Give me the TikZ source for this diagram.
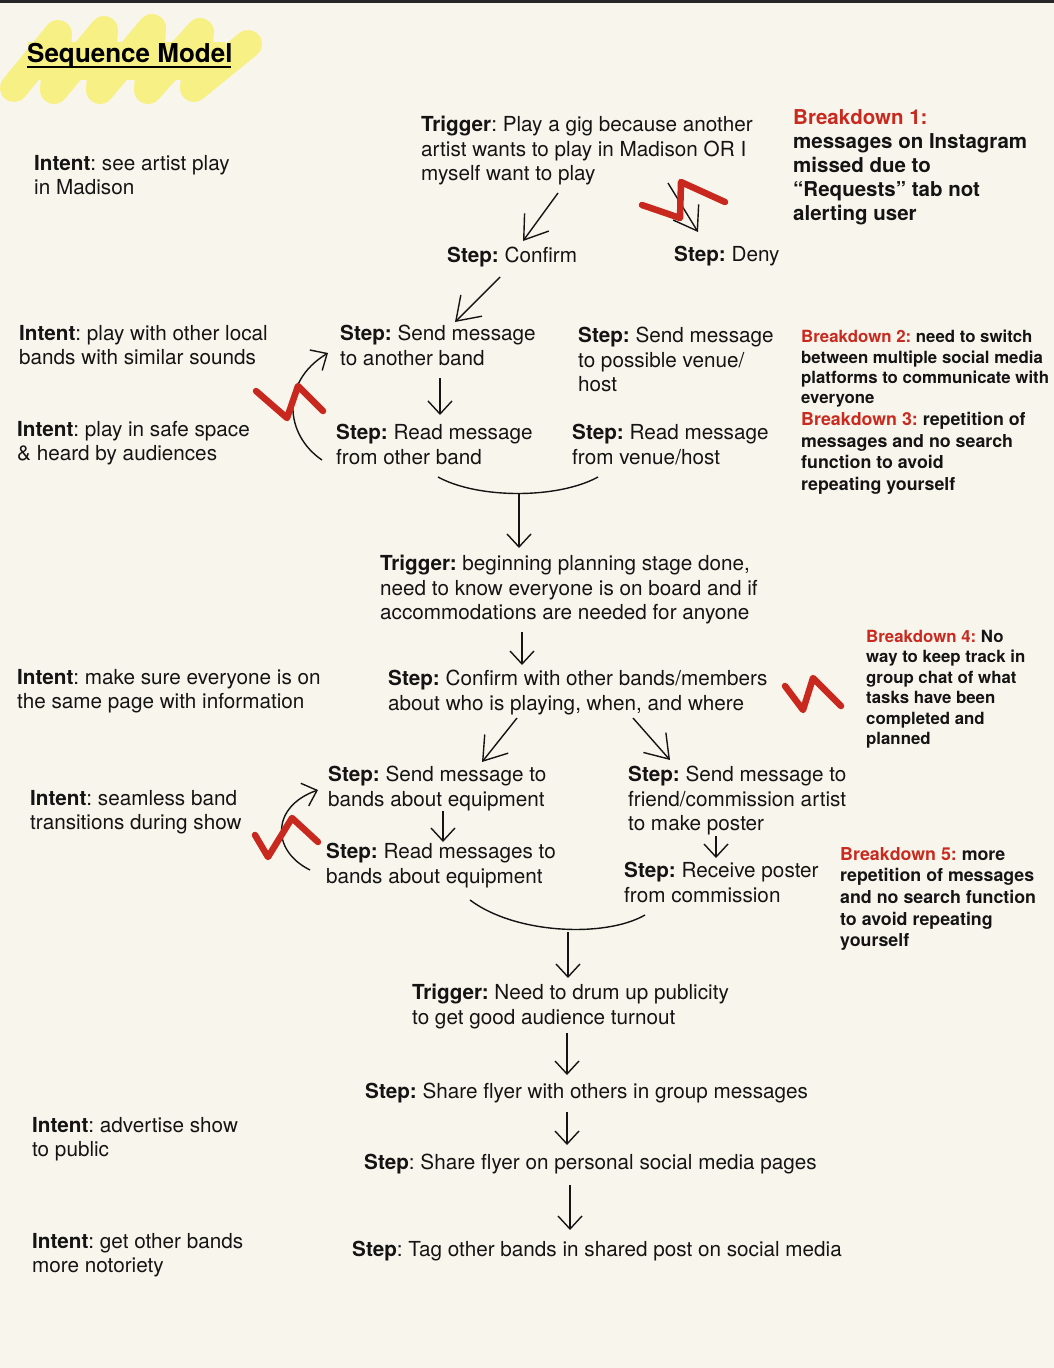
\documentclass[tikz,border=0pt]{standalone}
\usepackage{fontspec}
\setmainfont{TeX Gyre Heros}
\usetikzlibrary{arrows.meta}
\frenchspacing

\definecolor{paper}{HTML}{F8F6EC}
\definecolor{hilite}{HTML}{F7F084}
\definecolor{zigred}{HTML}{C8281E}
\definecolor{brkred}{HTML}{C92A20}
\definecolor{ink}{HTML}{141414}

\tikzset{
  txt/.style={anchor=north west, inner sep=0pt, align=left, text=ink, font=\fontsize{20.7}{24.5}\selectfont},
  brk/.style={anchor=north west, inner sep=0pt, align=left, text=ink, font=\bfseries\fontsize{16.8}{20.4}\selectfont},
  brkbig/.style={brk, font=\bfseries\fontsize{17.8}{21.7}\selectfont},
  arr/.style={ink, line width=1.4pt, -{Straight Barb[length=13pt,width=24pt]}},
  bigarr/.style={ink, line width=1.4pt, -{Straight Barb[length=22pt,width=30pt]}},
  zig/.style={draw=zigred, line width=6.5pt, line cap=round, line join=round},
}
\newcommand{\brkred}[1]{{\color{brkred}#1}}

\begin{document}
\begin{tikzpicture}[x=1pt,y=-1pt]
\useasboundingbox (0,0) rectangle (1054,1368);
\fill[paper] (0,0) rectangle (1054,1368);
\fill[black!85] (0,0) rectangle (1054,3);

% yellow highlight behind title
\fill[hilite] (28,42) rectangle (225,80);
\draw[hilite, line width=28pt, line cap=round, line join=round]
  (14,88) -- (58,34) -- (54,90) -- (104,30) -- (100,90) -- (152,28) -- (148,90)
  -- (200,32) -- (194,88) -- (248,44);
\node[anchor=base west, inner sep=0pt, font=\bfseries\fontsize{26}{30}\selectfont] (title) at (27,62) {Sequence Model};
\draw[line width=2pt] (title.base west) ++(0,4.5) -- ++(204,0);

% intents
\node[txt] (int1) at (34,155) {\textbf{Intent}: see artist play\\in Madison};
\node[txt] (int2) at (19,325) {\textbf{Intent}: play with other local\\bands with similar sounds};
\node[txt] (int3) at (17,421) {\textbf{Intent}: play in safe space\\\& heard by audiences};
\node[txt] (int4) at (17,669) {\textbf{Intent}: make sure everyone is on\\the same page with information};
\node[txt] (int5) at (30,790) {\textbf{Intent}: seamless band\\transitions during show};
\node[txt] (int6) at (32,1117) {\textbf{Intent}: advertise show\\to public};
\node[txt] (int7) at (32,1233) {\textbf{Intent}: get other bands\\more notoriety};

% steps
\node[txt] (trig1) at (421,116) {\textbf{Trigger}: Play a gig because another\\artist wants to play in Madison OR I\\myself want to play};
\node[txt] (confirm) at (447,247) {\textbf{Step:} Confirm};
\node[txt] (deny) at (674,246) {\textbf{Step:} Deny};
\node[txt] (sendband) at (340,325) {\textbf{Step:} Send message\\to another band};
\node[txt] (sendvenue) at (578,327) {\textbf{Step:} Send message\\to possible venue/\\host};
\node[txt] (readband) at (336,424) {\textbf{Step:} Read message\\from other band};
\node[txt] (readvenue) at (572,424) {\textbf{Step:} Read message\\from venue/host};
\node[txt] (trig2) at (380,555) {\textbf{Trigger:} beginning planning stage done,\\need to know everyone is on board and if\\accommodations are needed for anyone};
\node[txt] (confother) at (388,670) {\textbf{Step:} Confirm with other bands/members\\about who is playing, when, and where};
\node[txt] (sendequip) at (328,766) {\textbf{Step:} Send message to\\bands about equipment};
\node[txt] (sendposter) at (628,766) {\textbf{Step:} Send message to\\friend/commission artist\\to make poster};
\node[txt] (readequip) at (326,843) {\textbf{Step:} Read messages to\\bands about equipment};
\node[txt] (receive) at (624,862) {\textbf{Step:} Receive poster\\from commission};
\node[txt] (trig3) at (412,984) {\textbf{Trigger:} Need to drum up publicity\\to get good audience turnout};
\node[txt] (share1) at (365,1083) {\textbf{Step:} Share flyer with others in group messages};
\node[txt] (share2) at (364,1154) {\textbf{Step}: Share flyer on personal social media pages};
\node[txt] (tag) at (352,1241) {\textbf{Step}: Tag other bands in shared post on social media};

% breakdowns
\node[brk, font=\bfseries\fontsize{20.5}{24.2}\selectfont] (brk1) at (793,109)
  {\brkred{Breakdown 1:}\\messages on Instagram\\missed due to\\“Requests” tab not\\alerting user};
\node[brk] (brk2) at (801,330) {\brkred{Breakdown 2:} need to switch\\between multiple social media\\platforms to communicate with\\everyone};
\node[brkbig] (brk3) at (801,412) {\brkred{Breakdown 3:} repetition of\\messages and no search\\function to avoid\\repeating yourself};
\node[brk] (brk4) at (866,630) {\brkred{Breakdown 4:} No\\way to keep track in\\group chat of what\\tasks have been\\completed and\\planned};
\node[brkbig] (brk5) at (840,847) {\brkred{Breakdown 5:} more\\repetition of messages\\and no search function\\to avoid repeating\\yourself};

% arrow ends
\coordinate (c1a) at (558,193); \coordinate (c1b) at (523,241);
\coordinate (d1a) at (668,183); \coordinate (d1b) at (698,232);
\coordinate (s1a) at (500,277); \coordinate (s1b) at (455,322);
\coordinate (r1a) at (440,378); \coordinate (r1b) at (440,415);
\coordinate (loop1a) at (322,460); \coordinate (loop1b) at (328,353);
\coordinate (arc1l) at (438,477); \coordinate (arc1r) at (598,477);
\coordinate (arc1m) at (519,494); \coordinate (arc1e) at (519,548);
\coordinate (t2a) at (522,632); \coordinate (t2b) at (522,665);
\coordinate (e1a) at (517,718); \coordinate (e1b) at (482,762);
\coordinate (p1a) at (633,718); \coordinate (p1b) at (670,760);
\coordinate (e2a) at (443,811); \coordinate (e2b) at (443,842);
\coordinate (loop2a) at (310,870); \coordinate (loop2b) at (318,790);
\coordinate (p2a) at (716,836); \coordinate (p2b) at (716,858);
\coordinate (arc2l) at (470,900); \coordinate (arc2r) at (645,915);
\coordinate (arc2m) at (568,932); \coordinate (arc2e) at (568,978);
\coordinate (f1a) at (567,1033); \coordinate (f1b) at (567,1075);
\coordinate (f2a) at (567,1112); \coordinate (f2b) at (567,1145);
\coordinate (f3a) at (570,1185); \coordinate (f3b) at (570,1230);

% arrows
\draw[bigarr] (c1a) -- (c1b);
\draw[bigarr] (d1a) -- (d1b);
\draw[bigarr] (s1a) -- (s1b);
\draw[arr] (r1a) -- (r1b);
\draw[arr] (loop1a) .. controls (285,435) and (280,382) .. (loop1b);
\draw[ink, line width=1.4pt] (arc1l) .. controls (478,499) and (558,499) .. (arc1r);
\draw[arr] (arc1m) -- (arc1e);
\draw[arr] (t2a) -- (t2b);
\draw[bigarr] (e1a) -- (e1b);
\draw[bigarr] (p1a) -- (p1b);
\draw[arr] (e2a) -- (e2b);
\draw[arr] (loop2a) .. controls (270,850) and (272,806) .. (loop2b);
\draw[arr] (p2a) -- (p2b);
\draw[ink, line width=1.4pt] (arc2l) .. controls (515,934) and (605,938) .. (arc2r);
\draw[arr] (arc2m) -- (arc2e);
\draw[arr] (f1a) -- (f1b);
\draw[arr] (f2a) -- (f2b);
\draw[arr] (f3a) -- (f3b);

% breakdown marks
\draw[zig] (642,205) -- (680,218) -- (681,182) -- (725,202);
\draw[zig] (256,391) -- (287,418) -- (298,386) -- (323,411);
\draw[zig] (785,686) -- (803,710) -- (813,678) -- (841,706);
\draw[zig] (255,835) -- (268,857) -- (292,818) -- (318,842);
\end{tikzpicture}
\end{document}
